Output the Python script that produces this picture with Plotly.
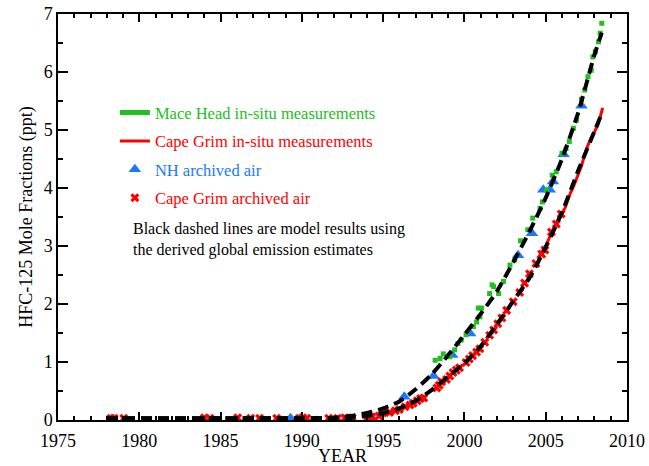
import plotly.graph_objects as go

# ---------------- data ----------------
mace_head_years = [1998.2, 1998.5, 1998.7, 1999.1, 1999.4, 1999.6, 1999.8, 2000.1, 2000.55, 2000.75,
                   2000.95, 2000.85, 2001.05, 2001.55, 2001.7, 2001.8, 2002.1, 2002.4, 2002.8, 2003.1,
                   2003.45, 2003.9, 2004.2, 2004.65, 2004.8, 2005.05, 2005.4, 2005.65, 2006.0, 2006.25,
                   2006.45, 2006.7, 2006.9, 2007.2, 2007.4, 2007.6, 2007.8, 2007.9, 2008.05, 2008.25,
                   2008.35, 2008.45]
mace_head_vals = [1.03, 1.06, 1.14, 1.09, 1.21, 1.32, 1.38, 1.47, 1.61, 1.69,
                  1.78, 1.93, 1.93, 2.18, 2.33, 2.30, 2.18, 2.39, 2.67, 2.76,
                  3.09, 3.28, 3.48, 3.65, 3.76, 3.97, 4.22, 4.28, 4.60, 4.68,
                  4.80, 5.03, 5.17, 5.53, 5.69, 5.92, 6.03, 6.26, 6.35, 6.52,
                  6.67, 6.84]

cg_insitu_years = [2004.5, 2005.0, 2005.4, 2005.8, 2006.2, 2006.5, 2006.7, 2007.0, 2007.2, 2007.4,
                   2007.6, 2007.8, 2008.0, 2008.2, 2008.35, 2008.5]
cg_insitu_vals = [2.78, 3.00, 3.25, 3.48, 3.66, 3.90, 4.02, 4.25, 4.38, 4.58,
                  4.74, 4.86, 4.98, 5.08, 5.22, 5.38]

nh_arch_years = [1989.3, 1994.2, 1996.3, 1998.1, 1999.25, 2000.35, 2003.3, 2004.15, 2004.85, 2005.25,
                 2005.45, 2006.1, 2007.2]
nh_arch_vals = [0.03, 0.08, 0.40, 0.76, 1.12, 1.49, 2.84, 3.22, 3.97, 3.97,
                4.11, 4.58, 5.42]

cg_arch_years = [1978.25, 1978.45, 1979.05, 1984.0, 1984.35, 1986.05, 1986.85, 1987.4, 1988.45, 1989.85,
                 1990.05, 1990.3, 1991.65, 1992.2, 1992.65, 1993.1, 1994.05, 1994.3, 1994.75, 1995.0,
                 1995.4, 1995.75, 1996.0, 1996.35, 1996.65, 1996.85, 1997.1, 1997.3, 1997.5, 1998.3,
                 1998.45, 1998.6, 1998.9, 1999.1, 1999.3, 1999.5, 1999.7, 2000.1, 2000.3, 2000.5,
                 2000.75, 2000.95, 2001.25, 2001.55, 2001.8, 2002.05, 2002.3, 2002.6, 2003.0, 2003.4,
                 2003.7, 2004.0, 2004.4, 2004.75, 2004.95, 2005.35, 2005.65, 2005.95]
cg_arch_vals = [0.03, 0.03, 0.03, 0.04, 0.03, 0.04, 0.03, 0.03, 0.03, 0.03,
                0.04, 0.03, 0.03, 0.03, 0.04, 0.04, 0.05, 0.05, 0.07, 0.12,
                0.13, 0.16, 0.18, 0.23, 0.26, 0.29, 0.33, 0.37, 0.38, 0.55,
                0.60, 0.66, 0.70, 0.76, 0.82, 0.86, 0.90, 0.99, 1.05, 1.11,
                1.17, 1.23, 1.34, 1.46, 1.55, 1.66, 1.76, 1.89, 2.04, 2.20,
                2.36, 2.52, 2.70, 2.86, 2.93, 3.24, 3.38, 3.55]

model_nh_years = [1978, 1985, 1990, 1992, 1993, 1994, 1995, 1996, 1997, 1998, 1999, 2000, 2001,
                  2002, 2003, 2004, 2005, 2006, 2007, 2008, 2008.45]
model_nh_vals = [0.03, 0.03, 0.03, 0.04, 0.07, 0.12, 0.20, 0.32, 0.53, 0.79, 1.12, 1.47, 1.83,
                 2.22, 2.72, 3.25, 3.83, 4.50, 5.30, 6.30, 6.68]

model_sh_years = [1978, 1985, 1990, 1992, 1993, 1994, 1995, 1996, 1997, 1998, 1999, 2000, 2001,
                  2002, 2003, 2004, 2005, 2006, 2007, 2008, 2008.4]
model_sh_vals = [0.03, 0.03, 0.03, 0.03, 0.04, 0.07, 0.12, 0.20, 0.33, 0.52, 0.75, 0.98, 1.27,
                 1.65, 2.05, 2.45, 2.98, 3.58, 4.30, 4.98, 5.25]

x_ticks = [1975, 1980, 1985, 1990, 1995, 2000, 2005, 2010]
y_ticks = [0, 1, 2, 3, 4, 5, 6, 7]

GREEN = "#21c021"
RED = "#ff0000"
BLUE = "#1a78ff"
FONT = "Liberation Serif"

fig = go.Figure()

fig.add_trace(go.Scatter(
    x=nh_arch_years, y=nh_arch_vals, mode="markers",
    marker=dict(symbol="triangle-up", size=11, color=BLUE),
    name='<span style="color:%s">NH archived air</span>' % BLUE,
    legendgroup="c", legendrank=3))

fig.add_trace(go.Scatter(
    x=cg_arch_years, y=cg_arch_vals, mode="markers",
    marker=dict(symbol="x", size=8, color=RED, line=dict(width=0)),
    name='<span style="color:%s">Cape Grim archived air</span>' % RED,
    legendgroup="d", legendrank=4))

fig.add_trace(go.Scatter(
    x=mace_head_years, y=mace_head_vals, mode="markers",
    marker=dict(symbol="square", size=5, color=GREEN),
    showlegend=False, legendgroup="a"))
# legend sample for Mace Head (line symbol, as in the reference legend)
fig.add_trace(go.Scatter(
    x=[None], y=[None], mode="lines", line=dict(color=GREEN, width=5),
    name='<span style="color:%s">Mace Head in-situ measurements</span>' % GREEN,
    legendgroup="a", legendrank=1))

fig.add_trace(go.Scatter(
    x=cg_insitu_years, y=cg_insitu_vals, mode="lines",
    line=dict(color=RED, width=3),
    name='<span style="color:%s">Cape Grim in-situ measurements</span>' % RED,
    legendgroup="b", legendrank=2))

for yrs, vals in [(model_nh_years, model_nh_vals), (model_sh_years, model_sh_vals)]:
    fig.add_trace(go.Scatter(
        x=yrs, y=vals, mode="lines",
        line=dict(color="black", width=4, dash="11px,6px", shape="spline", smoothing=0.6),
        showlegend=False, hoverinfo="skip"))

axis_common = dict(
    showline=True, linecolor="black", linewidth=1.5, mirror="allticks",
    ticks="inside", tickcolor="black", tickwidth=1.5,
    showgrid=False, zeroline=False, automargin=False,
    tickfont=dict(family=FONT, size=18, color="black"),
)

fig.update_xaxes(
    range=[1975, 2010], tickvals=x_ticks, ticklen=8, ticklabelstandoff=4,
    minor=dict(dtick=1, ticklen=4, ticks="inside", tickcolor="black", tickwidth=1.5, showgrid=False),
    title=dict(text="YEAR", font=dict(family=FONT, size=18, color="black"), standoff=5),
    **axis_common)
fig.update_yaxes(
    range=[0, 7], tickvals=y_ticks, ticklen=10,
    minor=dict(dtick=0.5, ticklen=5, ticks="inside", tickcolor="black", tickwidth=1.5, showgrid=False),
    title=dict(text="HFC-125 Mole Fractions (ppt)", font=dict(family=FONT, size=18, color="black"), standoff=6),
    **axis_common)

fig.add_annotation(
    xref="paper", yref="paper", x=0.128, y=0.497, xanchor="left", yanchor="top",
    text="Black dashed lines are model results using<br>the derived global emission estimates",
    showarrow=False, align="left",
    font=dict(family=FONT, size=16, color="black"))

fig.update_layout(
    width=649, height=466,
    margin=dict(l=58, r=22, t=14, b=46),
    paper_bgcolor="white", plot_bgcolor="white",
    showlegend=True,
    legend=dict(x=0.10, y=0.80, xanchor="left", yanchor="top",
                bgcolor="rgba(0,0,0,0)", tracegroupgap=4,
                font=dict(family=FONT, size=16.5, color="black")),
)

fig.write_html("out.html")
